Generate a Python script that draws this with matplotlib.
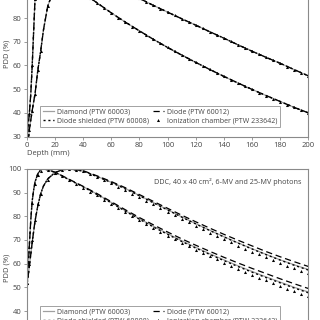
import matplotlib
matplotlib.use("Agg")
import matplotlib.pyplot as plt
from matplotlib.lines import Line2D

plt.rcParams['font.family'] = ['Open Sans', 'DejaVu Sans']

# depth grids (mm)
depth = [0, 1, 2, 3, 4, 5, 6, 8, 10, 12, 15, 20, 25, 30, 40, 50, 60, 70, 80, 90,
         100, 110, 120, 130, 140, 150, 160, 170, 180, 190, 200]
depth_ic = [0, 2, 4, 6, 8, 10] + list(range(15, 205, 5))

# ---- upper panel (small field) ----
top_6mv = [20, 34, 40, 48, 60, 74, 88, 94, 97.5, 99.3, 100, 98.8, 96.8, 94.6, 90.6, 86.4,
           82.2, 78.3, 74.6, 71.0, 67.6, 64.4, 61.3, 58.3, 55.4, 52.6, 49.9, 47.3, 44.8,
           42.3, 40.0]
top_25mv = [20, 27, 33, 37, 41, 44.5, 48, 58, 66, 75, 85, 93, 97.2, 99.3, 99.8, 97.2,
            94.3, 91.3, 88.3, 85.3, 82.5, 79.7, 77.0, 74.2, 71.5, 68.7, 66.0, 63.4, 60.9,
            58.2, 55.6]
top_6mv_ic = [20, 40, 60, 88, 94, 97.5, 100, 98.8, 96.8, 94.6, 92.6, 90.6, 88.5, 86.4,
              84.3, 82.2, 80.2, 78.3, 76.4, 74.6, 72.8, 71.0, 69.3, 67.6, 66.0, 64.4, 62.8,
              61.3, 59.8, 58.3, 56.8, 55.4, 54.0, 52.6, 51.2, 49.9, 48.6, 47.3, 46.0, 44.8,
              43.5, 42.3, 41.1, 40.0]
top_25mv_ic = [20, 33, 41, 48, 58, 66, 85, 93, 97.2, 99.3, 100, 99.8, 98.6, 97.2, 95.8,
               94.3, 92.8, 91.3, 89.8, 88.3, 86.8, 85.3, 83.9, 82.5, 81.1, 79.7, 78.4, 77.0,
               75.6, 74.2, 72.8, 71.5, 70.1, 68.7, 67.3, 66.0, 64.7, 63.4, 62.1, 60.9, 59.5,
               58.2, 56.9, 55.6]

# ---- lower panel (40 x 40 cm2) ----
bot_6mv_diamond = [50, 57, 68, 78.5, 86.5, 91, 94.5, 98, 99.6, 100, 99.6, 98.7, 97.2, 95.6,
                   92.6, 89.4, 85.9, 82.4, 79.0, 75.8, 72.7, 69.7, 66.9, 64.2, 61.6, 59.1,
                   56.7, 54.4, 52.2, 50.0, 48.0]
bot_6mv_diode = [50, 57, 68, 78.5, 86.5, 91, 94.5, 98, 99.6, 100, 99.6, 98.7, 97.2, 95.7,
                 92.7, 89.6, 86.2, 82.8, 79.5, 76.4, 73.4, 70.5, 67.8, 65.2, 62.7, 60.3,
                 58.0, 55.8, 53.6, 51.5, 49.5]
bot_6mv_shielded = [50, 57, 68, 78.5, 86.5, 91, 94.5, 98, 99.6, 100, 99.6, 98.6, 97.1, 95.5,
                    92.5, 89.2, 85.7, 82.2, 78.8, 75.5, 72.4, 69.4, 66.6, 63.9, 61.3, 58.8,
                    56.4, 54.1, 51.9, 49.7, 47.7]
bot_6mv_ic = [52, 67, 85.5, 93.8, 97.5, 99.3, 99.5, 98.4, 96.9, 95.2, 93.7, 92.1, 90.4,
              88.8, 87.0, 85.2, 83.4, 81.7, 80.0, 78.3, 76.6, 75.0, 73.4, 71.8, 70.3, 68.8,
              67.3, 65.9, 64.5, 63.1, 61.8, 60.4, 59.1, 57.8, 56.6, 55.3, 54.1, 52.9, 51.7,
              50.6, 49.4, 48.3, 47.2, 46.2]

bot_25mv_diamond = [50, 54, 59, 64, 69, 73.5, 78, 84.5, 89.5, 92.8, 95.8, 98.4, 99.6, 100,
                    99.2, 96.9, 94.4, 91.8, 88.8, 85.8, 82.8, 79.8, 76.9, 74.1, 71.4, 68.8,
                    66.3, 63.9, 61.6, 59.5, 57.5]
bot_25mv_diode = [50, 54, 59, 64, 69, 73.5, 78, 84.5, 89.5, 92.8, 95.8, 98.4, 99.6, 100,
                  99.3, 97.1, 94.7, 92.1, 89.2, 86.3, 83.4, 80.5, 77.7, 75.0, 72.4, 69.9,
                  67.5, 65.1, 62.9, 60.8, 58.8]
bot_25mv_shielded = [50, 54, 59, 64, 69, 73.5, 78, 84.5, 89.5, 92.8, 95.8, 98.4, 99.6, 100,
                     99.1, 96.8, 94.3, 91.6, 88.7, 85.7, 82.7, 79.7, 76.8, 74.0, 71.3, 68.7,
                     66.2, 63.8, 61.5, 59.3, 57.3]
bot_25mv_ic = [52, 60, 70, 78.5, 85, 89.5, 95.5, 98.2, 99.4, 99.8, 99.7, 99.0, 97.9, 96.6,
               95.3, 93.9, 92.5, 91.1, 89.6, 88.1, 86.6, 85.1, 83.6, 82.0, 80.5, 79.0, 77.5,
               76.0, 74.6, 73.1, 71.7, 70.3, 69.0, 67.6, 66.4, 65.1, 63.9, 62.7, 61.5, 60.3,
               59.2, 58.1, 57.0, 56.0]

labels = ['Diamond (PTW 60003)', 'Diode (PTW 60012)',
          'Diode shielded (PTW 60008)', 'Ionization chamber (PTW 233642)']
x_ticks = list(range(0, 220, 20))

diamond_kw = dict(color='#a0a0a0', lw=0.9, ls='-')
diode_kw = dict(color='black', lw=0.9, ls=(0, (5, 3)))
shield_kw = dict(color='black', lw=1.0, ls=(0, (1.5, 2)))
ic_kw = dict(color='black', ls='none', marker='^', ms=2.2, mew=0)

spine_col = '#8a8a8a'
text_col = '#444444'


def style_axes(ax, ylim, yticks, label_y):
    ax.set_xlim(0, 200)
    ax.set_ylim(*ylim)
    ax.set_xticks(x_ticks)
    ax.set_yticks(yticks)
    for s in ax.spines.values():
        s.set_color(spine_col)
        s.set_linewidth(0.8)
    ax.tick_params(direction='out', length=2, width=0.6, color=spine_col,
                   labelsize=5.5, labelcolor=text_col, pad=1.5)
    ax.set_ylabel('PDD (%)', fontsize=5.5, color=text_col)
    ax.yaxis.set_label_coords(-0.058, label_y)


def add_legend(ax, anchor):
    handles = [Line2D([], [], **diamond_kw), Line2D([], [], **shield_kw),
               Line2D([], [], **diode_kw), Line2D([], [], **ic_kw)]
    names = [labels[0], labels[2], labels[1], labels[3]]
    leg = ax.legend(handles, names, ncol=2, loc='lower left', bbox_to_anchor=anchor,
                    fontsize=5.0, frameon=True, fancybox=False, edgecolor=spine_col,
                    handlelength=1.7, handletextpad=0.4, columnspacing=0.5,
                    borderpad=0.35, labelspacing=0.3, borderaxespad=0)
    leg.get_frame().set_linewidth(0.7)
    for t in leg.get_texts():
        t.set_color(text_col)


fig = plt.figure(figsize=(3.2, 3.2), dpi=100)

# upper panel extends above the picture
ax1 = fig.add_axes([0.083, 0.573, 0.881, 0.519])
for y, yi in [(top_6mv, top_6mv_ic), (top_25mv, top_25mv_ic)]:
    ax1.plot(depth, y, **diamond_kw)
    ax1.plot(depth, y, **diode_kw)
    ax1.plot(depth, y, **shield_kw)
    ax1.plot(depth_ic, yi, **ic_kw)
style_axes(ax1, (30, 100), list(range(30, 90, 10)), 0.5)
ax1.set_xlabel('Depth (mm)', fontsize=5.5, color=text_col, loc='left', labelpad=1)
add_legend(ax1, (0.048, 0.056))

# lower panel, cut at the bottom
ax2 = fig.add_axes([0.083, -0.12, 0.881, 0.592])
ax2.plot(depth, bot_6mv_diamond, **diamond_kw)
ax2.plot(depth, bot_6mv_diode, **diode_kw)
ax2.plot(depth, bot_6mv_shielded, **shield_kw)
ax2.plot(depth_ic, bot_6mv_ic, **ic_kw)
ax2.plot(depth, bot_25mv_diamond, **diamond_kw)
ax2.plot(depth, bot_25mv_diode, **diode_kw)
ax2.plot(depth, bot_25mv_shielded, **shield_kw)
ax2.plot(depth_ic, bot_25mv_ic, **ic_kw)
style_axes(ax2, (20, 100), list(range(40, 110, 10)), 0.48)
ax2.text(0.975, 0.93, 'DDC, 40 x 40 cm², 6-MV and 25-MV photons', transform=ax2.transAxes,
         ha='right', va='center', fontsize=5.2, color=text_col)
add_legend(ax2, (0.048, 0.164))

fig.savefig('out.png', dpi=100)
